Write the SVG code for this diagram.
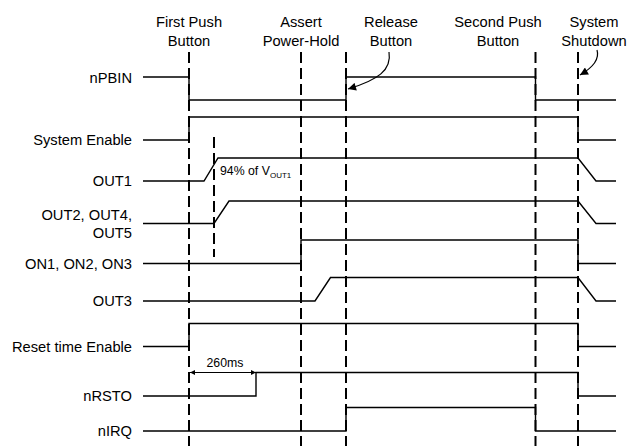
<svg xmlns="http://www.w3.org/2000/svg" width="629" height="446" viewBox="0 0 629 446">
<style>
.t{font-family:"Liberation Sans",Arial,sans-serif;font-size:14.7px;fill:#000}
.l{text-anchor:end}
.c{text-anchor:middle}
.s{font-family:"Liberation Sans",Arial,sans-serif;font-size:12.3px;fill:#000}
.sig{fill:none;stroke:#000;stroke-width:1.4}
.dash{fill:none;stroke:#000;stroke-width:2;stroke-dasharray:11 5}
</style>
<defs>
<marker id="ah" viewBox="0 0 10 10" refX="10" refY="5" markerWidth="11" markerHeight="8" markerUnits="userSpaceOnUse" orient="auto"><path d="M0,0 L10,5 L0,10 z" fill="#000"/></marker>
<marker id="sa" viewBox="0 0 10 10" refX="10" refY="5" markerWidth="6" markerHeight="5" markerUnits="userSpaceOnUse" orient="auto-start-reverse"><path d="M0,0 L10,5 L0,10 z" fill="#000"/></marker>
</defs>
<rect width="629" height="446" fill="#fff"/>
<g id="headers">
<text class="t c" x="189" y="26.5">First Push</text>
<text class="t c" x="189" y="45.5">Button</text>
<text class="t c" x="301" y="26.5">Assert</text>
<text class="t c" x="301" y="45.5">Power-Hold</text>
<text class="t c" x="391" y="26.5">Release</text>
<text class="t c" x="391" y="45.5">Button</text>
<text class="t c" x="498" y="26.5">Second Push</text>
<text class="t c" x="498" y="45.5">Button</text>
<text class="t c" x="594" y="26.5">System</text>
<text class="t c" x="594" y="45.5">Shutdown</text>
</g>
<g id="labels">
<text class="t l" x="132" y="82.5">nPBIN</text>
<text class="t l" x="132" y="145.3">System Enable</text>
<text class="t l" x="132" y="186.3">OUT1</text>
<text class="t l" x="132" y="220">OUT2, OUT4,</text>
<text class="t l" x="132" y="238.3">OUT5</text>
<text class="t l" x="132" y="268.5">ON1, ON2, ON3</text>
<text class="t l" x="132" y="306.3">OUT3</text>
<text class="t l" x="132" y="351.5">Reset time Enable</text>
<text class="t l" x="132" y="401.3">nRSTO</text>
<text class="t l" x="132" y="436">nIRQ</text>
</g>
<g id="markers-lines">
<line class="dash" x1="189" y1="52" x2="189" y2="446"/>
<line class="dash" x1="301" y1="52" x2="301" y2="446"/>
<line class="dash" x1="346" y1="52" x2="346" y2="446"/>
<line class="dash" x1="535.5" y1="52" x2="535.5" y2="446"/>
<line class="dash" x1="578" y1="52" x2="578" y2="446"/>
<line class="dash" x1="214" y1="137" x2="214" y2="257"/>
</g>
<g id="connectors">
<path class="sig" d="M143,77 H189 V100 H346 V77 H535.5 V100 H616"/>
<path class="sig" d="M143,140 H189 V117 H578 V140 H616"/>
<path class="sig" d="M143,181 H204 L218,158 H578 L596,181 H616"/>
<path class="sig" d="M143,223.5 H214 L229,201 H578 L596,223.5 H616"/>
<path class="sig" d="M143,263.5 H301 V240 H578 V263.5 H616"/>
<path class="sig" d="M143,301 H315 L330.5,277.5 H578 L596,301 H616"/>
<path class="sig" d="M143,346.5 H189 V323.5 H578 V346.5 H616"/>
<path class="sig" d="M143,396 H256 V372.5 H578 V396 H616"/>
<path class="sig" d="M143,431 H346 V407.5 H535.5 V431 H616"/>
<path fill="none" stroke="#000" stroke-width="1" d="M190,372.5 H256" marker-start="url(#sa)" marker-end="url(#sa)"/>
<path fill="none" stroke="#000" stroke-width="1.2" d="M389,52 C392,70 378,80 348,89" marker-end="url(#ah)"/>
<path fill="none" stroke="#000" stroke-width="1.2" d="M597,50 C600,60 592,68 580,75" marker-end="url(#ah)"/>
</g>
<g id="annotations">
<text class="s" x="220" y="175">94% of V<tspan font-size="8px" dy="2.5">OUT1</tspan></text>
<text class="s" x="206.5" y="367">260ms</text>
</g>
</svg>
